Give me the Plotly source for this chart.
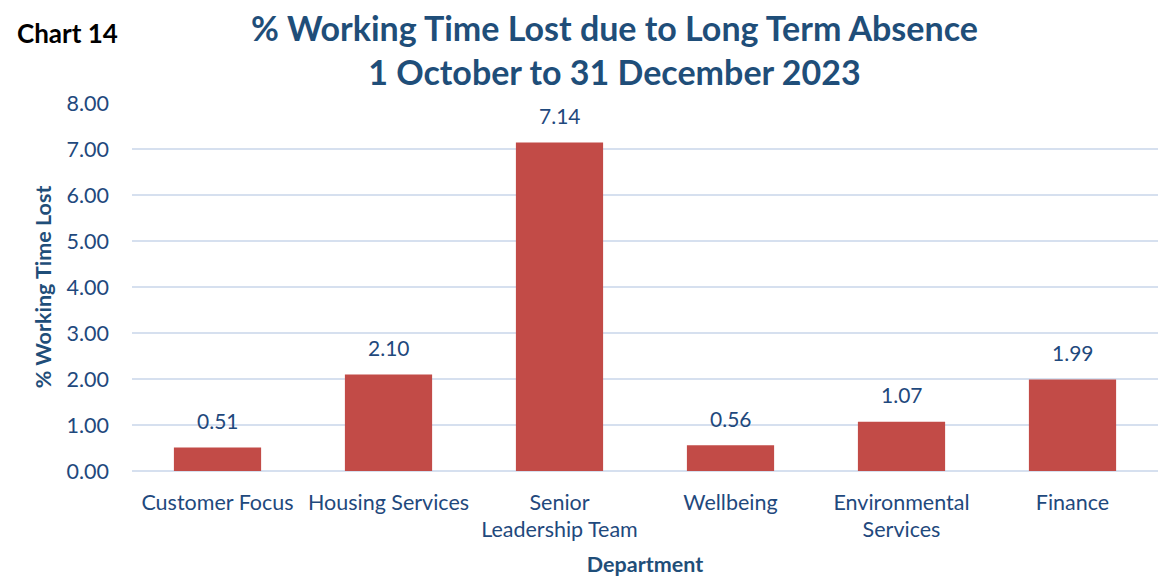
import plotly.graph_objects as go

departments = ["Customer Focus", "Housing Services", "Senior<br>Leadership Team",
               "Wellbeing", "Environmental<br>Services", "Finance"]
pct_lost = [0.51, 2.10, 7.14, 0.56, 1.07, 1.99]
y_ticks = [0, 1, 2, 3, 4, 5, 6, 7, 8]

FONT = "Lato, Carlito, Calibri, sans-serif"
BLUE = "#1F497D"
TITLE_BLUE = "#1F4E79"

fig = go.Figure()
fig.add_trace(go.Bar(
    x=departments, y=pct_lost,
    marker=dict(color="#C24B47", line=dict(width=0)),
    width=0.51,
))

for d, v in zip(departments, pct_lost):
    fig.add_annotation(
        x=d, y=v, text=f"{v:.2f}", showarrow=False,
        yanchor="middle", yshift=27,
        font=dict(family=FONT, size=21, color=BLUE),
    )

fig.update_layout(
    width=1158, height=577,
    margin=dict(l=132, r=0, t=103, b=106),
    paper_bgcolor="white", plot_bgcolor="white",
    showlegend=False,
    font=dict(family=FONT, color=BLUE),
    xaxis=dict(
        tickfont=dict(family=FONT, size=21.5, color=BLUE),
        showgrid=False, showline=False, ticks="",
        ticklabelstandoff=16,
        automargin=False,
        title=dict(text="Department", standoff=16,
                   font=dict(family=FONT, size=21.5, color=TITLE_BLUE, weight="bold")),
    ),
    yaxis=dict(
        range=[0, 8], tickvals=y_ticks,
        tickformat=".2f",
        tickfont=dict(family=FONT, size=21.5, color=BLUE),
        gridcolor="#D6E0EF", gridwidth=2,
        zeroline=True, zerolinecolor="#D6E0EF", zerolinewidth=2,
        ticks="", ticklabelstandoff=22,
        automargin=False,
        title=dict(text="% Working Time Lost", standoff=8,
                   font=dict(family=FONT, size=21.5, color=TITLE_BLUE, weight="bold")),
    ),
)

fig.add_annotation(
    text="<b>% Working Time Lost due to Long Term Absence<br>1 October to 31 December 2023</b>",
    xref="paper", yref="paper",
    x=(614-132)/1026, y=1 + (103-50)/368, xanchor="center", yanchor="middle",
    showarrow=False, font=dict(family=FONT, size=34, color=TITLE_BLUE),
)

fig.add_annotation(
    text="<b>Chart 14</b>", xref="paper", yref="paper",
    x=-117/1026, y=1 + (103-33)/368, xanchor="left", yanchor="middle",
    showarrow=False, font=dict(family=FONT, size=26, color="black"),
)

fig.write_html("out.html", config={"displayModeBar": False},
               post_script="document.body.style.margin='0';")
